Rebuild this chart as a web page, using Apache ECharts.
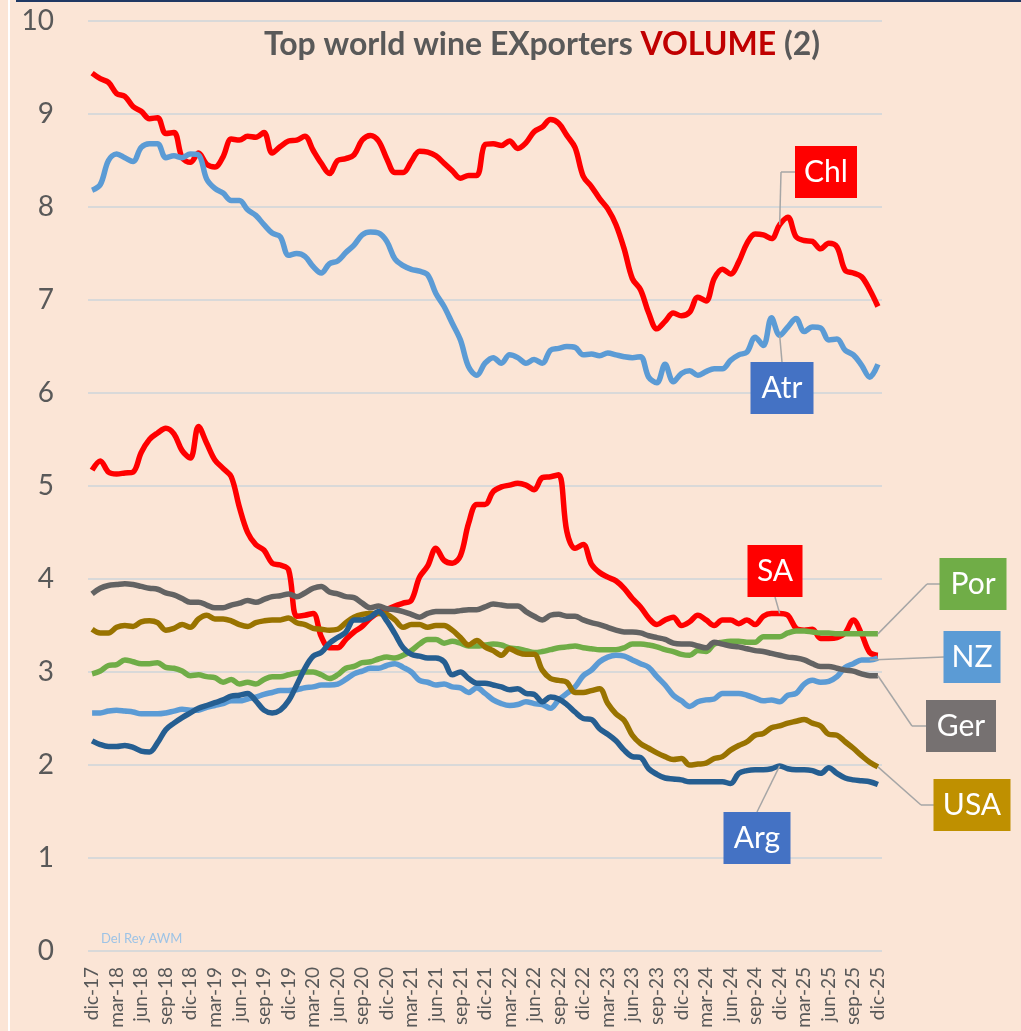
<!DOCTYPE html>
<html>
<head>
<meta charset="utf-8">
<script src="https://cdn.jsdelivr.net/npm/echarts@6/dist/echarts.min.js"></script>
<style>
  html, body { margin: 0; padding: 0; background: #FBE5D6; }
  #chart { width: 1021px; height: 1031px; }
</style>
</head>
<body>
<div id="chart"></div>
<script>
// monthly axis dic-17 .. dic-25 (spanish month names)
const monthNames = ['ene','feb','mar','abr','may','jun','jul','ago','sep','oct','nov','dic']
const categories = []
for (let k = 0; k < 97; k++) {
  categories.push(monthNames[(11 + k) % 12] + '-' + (17 + Math.floor((11 + k) / 12)))
}

const chl = [9.44,9.38,9.34,9.22,9.19,9.08,9.03,8.95,8.96,8.79,8.80,8.53,8.48,8.58,8.46,8.43,8.54,8.73,8.72,8.76,
  8.75,8.80,8.58,8.65,8.71,8.72,8.76,8.61,8.47,8.36,8.50,8.52,8.56,8.72,8.77,8.71,8.52,8.37,8.37,8.49,
  8.60,8.59,8.55,8.47,8.39,8.31,8.34,8.34,8.67,8.68,8.66,8.71,8.63,8.69,8.81,8.86,8.94,8.90,8.77,8.64,
  8.33,8.22,8.09,7.98,7.81,7.55,7.23,7.11,6.86,6.69,6.77,6.86,6.83,6.87,7.03,6.99,7.23,7.33,7.28,7.41,
  7.61,7.71,7.70,7.66,7.81,7.89,7.68,7.64,7.63,7.55,7.61,7.57,7.32,7.29,7.25,7.11,6.93]
const atr = [8.18,8.24,8.50,8.57,8.53,8.49,8.64,8.68,8.68,8.53,8.55,8.53,8.57,8.56,8.30,8.20,8.15,8.07,8.07,7.97,
  7.91,7.81,7.72,7.68,7.48,7.50,7.47,7.36,7.29,7.39,7.42,7.51,7.59,7.70,7.73,7.72,7.63,7.44,7.37,7.33,
  7.31,7.27,7.07,6.93,6.75,6.57,6.28,6.19,6.32,6.38,6.32,6.41,6.38,6.32,6.36,6.32,6.46,6.48,6.50,6.49,
  6.41,6.42,6.40,6.43,6.41,6.39,6.38,6.39,6.17,6.11,6.31,6.12,6.21,6.24,6.19,6.23,6.26,6.26,6.35,6.41,
  6.44,6.60,6.51,6.81,6.62,6.71,6.80,6.66,6.71,6.70,6.57,6.58,6.46,6.41,6.30,6.17,6.31]
const sa = [5.17,5.27,5.15,5.13,5.14,5.15,5.36,5.50,5.57,5.62,5.56,5.38,5.30,5.64,5.46,5.28,5.19,5.10,4.77,4.50,
  4.37,4.31,4.17,4.15,4.10,3.60,3.61,3.63,3.38,3.26,3.26,3.35,3.43,3.49,3.58,3.64,3.67,3.71,3.74,3.77,
  4.02,4.14,4.33,4.20,4.17,4.25,4.60,4.80,4.80,4.94,4.99,5.01,5.03,5.01,4.96,5.09,5.10,5.12,4.51,4.33,
  4.37,4.16,4.07,4.02,3.98,3.90,3.79,3.70,3.58,3.51,3.56,3.59,3.50,3.54,3.61,3.56,3.50,3.56,3.56,3.52,
  3.56,3.51,3.60,3.63,3.63,3.61,3.47,3.45,3.46,3.36,3.36,3.37,3.42,3.56,3.41,3.21,3.18]
const por = [2.98,3.01,3.07,3.08,3.13,3.11,3.09,3.09,3.10,3.05,3.04,3.01,2.96,2.97,2.95,2.94,2.89,2.92,2.87,2.89,
  2.87,2.92,2.95,2.95,2.97,2.99,3.00,3.00,2.97,2.93,2.97,3.04,3.06,3.10,3.11,3.14,3.16,3.15,3.18,3.23,
  3.30,3.35,3.35,3.31,3.33,3.31,3.28,3.28,3.29,3.30,3.29,3.26,3.25,3.23,3.21,3.22,3.24,3.26,3.27,3.28,
  3.26,3.25,3.24,3.24,3.24,3.26,3.30,3.30,3.29,3.27,3.24,3.22,3.19,3.18,3.23,3.22,3.30,3.32,3.33,3.33,
  3.32,3.32,3.38,3.38,3.38,3.42,3.44,3.44,3.43,3.42,3.42,3.41,3.41,3.41,3.41,3.41,3.41]
const nz = [2.56,2.56,2.58,2.59,2.58,2.57,2.55,2.55,2.55,2.56,2.58,2.60,2.59,2.59,2.62,2.64,2.66,2.69,2.69,2.71,
  2.73,2.76,2.78,2.80,2.80,2.81,2.83,2.84,2.86,2.86,2.87,2.92,2.98,3.01,3.04,3.04,3.07,3.09,3.05,3.00,
  2.91,2.89,2.86,2.87,2.84,2.83,2.78,2.83,2.77,2.70,2.66,2.64,2.65,2.68,2.66,2.65,2.61,2.70,2.77,2.84,
  2.96,3.02,3.11,3.16,3.18,3.17,3.13,3.09,3.05,2.95,2.86,2.75,2.69,2.63,2.68,2.70,2.71,2.77,2.77,2.77,
  2.75,2.72,2.69,2.70,2.68,2.75,2.77,2.87,2.91,2.89,2.90,2.95,3.05,3.09,3.13,3.13,3.15]
const ger = [3.84,3.90,3.93,3.94,3.95,3.94,3.92,3.90,3.89,3.85,3.83,3.79,3.75,3.75,3.72,3.69,3.69,3.72,3.74,3.77,
  3.75,3.78,3.81,3.82,3.84,3.81,3.85,3.90,3.92,3.86,3.84,3.81,3.80,3.74,3.69,3.71,3.68,3.67,3.65,3.62,
  3.59,3.63,3.65,3.65,3.65,3.66,3.67,3.67,3.70,3.73,3.72,3.71,3.71,3.65,3.60,3.56,3.61,3.62,3.60,3.60,
  3.56,3.53,3.51,3.48,3.45,3.43,3.43,3.42,3.39,3.37,3.35,3.31,3.30,3.30,3.28,3.26,3.32,3.30,3.28,3.27,
  3.25,3.23,3.22,3.20,3.18,3.16,3.15,3.13,3.09,3.06,3.06,3.04,3.02,3.01,2.98,2.96,2.96]
const usa = [3.46,3.42,3.42,3.48,3.50,3.49,3.54,3.55,3.53,3.45,3.47,3.51,3.48,3.57,3.61,3.57,3.57,3.55,3.51,3.49,
  3.53,3.55,3.56,3.56,3.58,3.53,3.51,3.47,3.46,3.45,3.46,3.53,3.59,3.62,3.63,3.63,3.62,3.56,3.48,3.51,
  3.51,3.48,3.50,3.50,3.45,3.37,3.29,3.34,3.27,3.23,3.18,3.25,3.21,3.19,3.19,3.02,2.93,2.91,2.89,2.78,
  2.78,2.80,2.82,2.66,2.55,2.48,2.32,2.23,2.18,2.13,2.09,2.06,2.07,2.00,2.01,2.02,2.07,2.09,2.16,2.21,
  2.25,2.32,2.34,2.40,2.42,2.45,2.47,2.49,2.45,2.42,2.33,2.32,2.25,2.18,2.10,2.03,1.98]
const arg = [2.26,2.22,2.20,2.20,2.21,2.19,2.15,2.14,2.24,2.38,2.45,2.51,2.56,2.61,2.64,2.67,2.70,2.74,2.75,2.77,
  2.69,2.59,2.56,2.59,2.69,2.86,3.04,3.17,3.21,3.31,3.37,3.43,3.56,3.56,3.59,3.65,3.55,3.41,3.26,3.19,
  3.17,3.15,3.15,3.11,2.97,3.00,2.93,2.88,2.88,2.86,2.84,2.81,2.82,2.77,2.76,2.68,2.73,2.71,2.65,2.57,
  2.50,2.49,2.39,2.33,2.26,2.16,2.09,2.08,1.96,1.90,1.86,1.85,1.84,1.82,1.82,1.82,1.82,1.82,1.80,1.91,
  1.94,1.95,1.95,1.96,1.99,1.96,1.95,1.95,1.94,1.91,1.97,1.91,1.86,1.84,1.83,1.82,1.79]

// name tags: box centre/size in px, data point the leader starts from, leader bend points
const tags = {
  Chl: { fill: '#FF0000', box: [826, 172, 62, 52], at: 84, leader: [[781, 172], [795, 172]] },
  Atr: { fill: '#4472C4', box: [782, 388, 63, 52], at: 84, leader: [[782, 362]] },
  SA:  { fill: '#FF0000', box: [775, 571, 55, 52], at: 84, leader: [[775, 597]] },
  Por: { fill: '#70AD47', box: [973, 584, 67, 52], at: 96, leader: [[927, 584], [940, 584]] },
  NZ:  { fill: '#5B9BD5', box: [972, 657, 57, 52], at: 95, leader: [[944, 657]] },
  Ger: { fill: '#767171', box: [961, 726, 70, 52], at: 96, leader: [[912, 726], [926, 726]] },
  USA: { fill: '#BF9000', box: [972, 805, 77, 52], at: 96, leader: [[921, 805], [934, 805]] },
  Arg: { fill: '#4472C4', box: [757, 838, 67, 52], at: 84, leader: [[757, 812]] }
}

function makeSeries(name, values, color) {
  const tag = tags[name]
  const pts = [{ coord: [tag.at, values[tag.at]] }].concat(tag.leader.map(p => ({ x: p[0], y: p[1] })))
  const segs = []
  for (let k = 0; k < pts.length - 1; k++) {
    segs.push([Object.assign({}, pts[k]), Object.assign({}, pts[k + 1])])
  }
  return {
    name: name,
    type: 'line',
    data: values,
    smooth: 0.35,
    symbol: 'none',
    clip: false,
    lineStyle: { color: color, width: 5.5 },
    itemStyle: { color: color },
    emphasis: { disabled: true },
    markLine: {
      silent: true,
      symbol: ['none', 'none'],
      label: { show: false },
      lineStyle: { color: '#A6A6A6', width: 1.5, type: 'solid' },
      emphasis: { disabled: true },
      data: segs
    },
    markPoint: {
      silent: true,
      data: [{
        x: tag.box[0], y: tag.box[1],
        symbol: 'rect',
        symbolSize: [tag.box[2], tag.box[3]],
        itemStyle: { color: tag.fill },
        label: { show: true, position: 'inside', formatter: name, color: '#fff', fontSize: 30, fontFamily: 'Lato' }
      }]
    }
  }
}

const chart = echarts.init(document.getElementById('chart'))
chart.setOption({
  animation: false,
  backgroundColor: '#FBE5D6',
  textStyle: { fontFamily: 'Lato' },
  grid: { left: 88, right: 139, top: 21, bottom: 80 },
  xAxis: {
    type: 'category',
    data: categories,
    boundaryGap: true,
    axisLine: { show: false },
    axisTick: { show: false },
    axisLabel: { interval: 2, rotate: 90, fontSize: 19, color: '#595959', margin: 16 }
  },
  yAxis: {
    type: 'value',
    min: 0,
    max: 10,
    interval: 1,
    axisLabel: { fontSize: 28, color: '#595959', margin: 34 },
    splitLine: { lineStyle: { color: '#D9D9D9', width: 2 } }
  },
  graphic: [
    { type: 'rect', left: 8, top: 0, shape: { width: 2, height: 1031 }, style: { fill: '#FFFFFF' } },
    { type: 'rect', left: 16, top: 0, shape: { width: 1005, height: 2 }, style: { fill: '#1F3864' } },
    {
      type: 'text', x: 542, y: 45,
      style: {
        text: '{a|Top world wine EXporters }{b|VOLUME}{a| (2)}',
        align: 'center', verticalAlign: 'middle',
        rich: {
          a: { fontSize: 32, fontWeight: 'bold', fill: '#595959', fontFamily: 'Lato' },
          b: { fontSize: 32, fontWeight: 'bold', fill: '#C00000', fontFamily: 'Lato' }
        }
      }
    },
    { type: 'text', x: 101, y: 932, style: { text: 'Del Rey AWM', fontSize: 13, fill: '#9DC3E6', fontFamily: 'Lato' } }
  ],
  series: [
    makeSeries('Chl', chl, '#FF0000'),
    makeSeries('Atr', atr, '#5B9BD5'),
    makeSeries('SA', sa, '#FF0000'),
    makeSeries('Por', por, '#70AD47'),
    makeSeries('NZ', nz, '#5B9BD5'),
    makeSeries('Ger', ger, '#636363'),
    makeSeries('USA', usa, '#997300'),
    makeSeries('Arg', arg, '#255E91')
  ]
})
</script>
</body>
</html>
